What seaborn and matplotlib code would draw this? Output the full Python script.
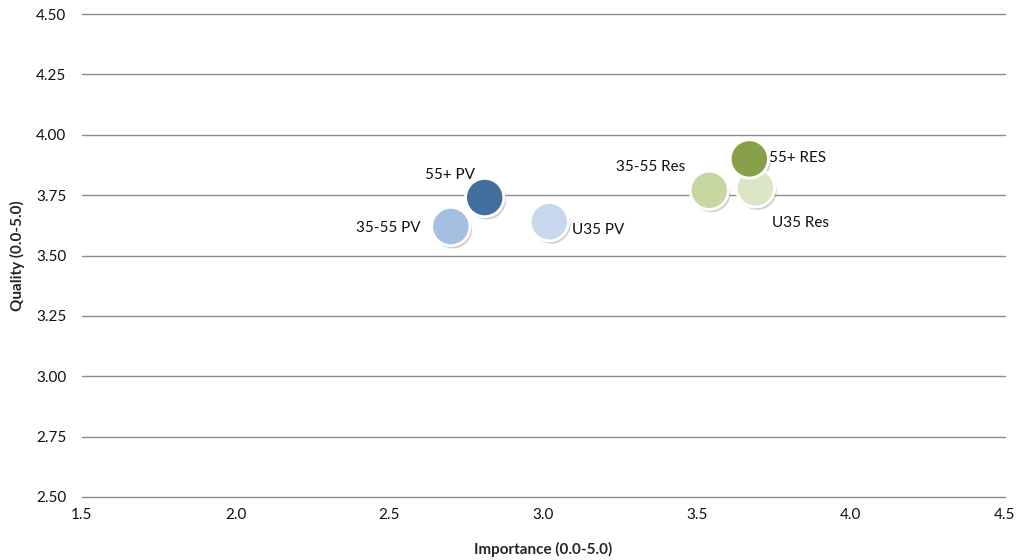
import pandas as pd
import seaborn as sns
import matplotlib.pyplot as plt
import matplotlib.patheffects as pe

# data
segments = ["55+ PV", "35-55 PV", "U35 PV", "35-55 Res", "U35 Res", "55+ RES"]
importance = [2.81, 2.70, 3.02, 3.54, 3.69, 3.67]
quality = [3.74, 3.62, 3.64, 3.77, 3.78, 3.90]

df = pd.DataFrame({"segment": segments, "importance": importance, "quality": quality})

colors = {
    "55+ PV": "#426f9e",
    "35-55 PV": "#a4bfdf",
    "U35 PV": "#c8d8ec",
    "35-55 Res": "#c6d7a2",
    "U35 Res": "#dce6c5",
    "55+ RES": "#87a14b",
}

# label placement (offset in points, alignment)
label_pos = {
    "55+ PV": ((-7, 11), "right", "bottom"),
    "35-55 PV": ((-22, -1), "right", "center"),
    "U35 PV": ((16, -6), "left", "center"),
    "35-55 Res": ((-17, 17), "right", "center"),
    "55+ RES": ((14, 1), "left", "center"),
    "U35 Res": ((12, -25), "left", "center"),
}

sns.set_theme(style="white")
plt.rcParams["font.family"] = ["Lato", "DejaVu Sans"]

fig = plt.figure(figsize=(10.21, 5.60), dpi=100)
ax = fig.add_axes([0.080, 0.1125, 0.904, 0.8625])

sns.scatterplot(
    data=df, x="importance", y="quality", hue="segment", palette=colors,
    s=760, edgecolor="white", linewidth=2, legend=False, ax=ax, zorder=3,
)
for coll in ax.collections:
    coll.set_path_effects([
        pe.SimplePatchShadow(offset=(1.5, -2), shadow_rgbFace="#888888", alpha=0.4),
        pe.Normal(),
    ])

for seg, x, y in zip(segments, importance, quality):
    off, ha, va = label_pos[seg]
    ax.annotate(seg, (x, y), xytext=off, textcoords="offset points",
                ha=ha, va=va, fontsize=11, color="#111111", zorder=4)

ax.set_xlim(1.5, 4.5)
ax.set_ylim(2.5, 4.5)
ax.set_xticks([1.5, 2.0, 2.5, 3.0, 3.5, 4.0, 4.5])
ax.set_xticklabels(["1.5", "2.0", "2.5", "3.0", "3.5", "4.0", "4.5"])
ax.set_yticks([2.5, 2.75, 3.0, 3.25, 3.5, 3.75, 4.0, 4.25, 4.5])
ax.set_yticklabels(["2.50", "2.75", "3.00", "3.25", "3.50", "3.75", "4.00", "4.25", "4.50"])
ax.yaxis.grid(True, color="#8c8c8c", linewidth=1)
for gl in ax.get_ygridlines():
    gl.set_clip_on(False)
ax.set_axisbelow(True)
for side in ["top", "right", "left", "bottom"]:
    ax.spines[side].set_visible(False)
ax.tick_params(axis="both", labelsize=11, colors="#111111", length=0)
ax.tick_params(axis="y", pad=11)
ax.tick_params(axis="x", pad=8)

ax.set_xlabel("Importance (0.0-5.0)", fontsize=11, fontweight="bold", labelpad=14)
ax.set_ylabel("Quality (0.0-5.0)", fontsize=11, fontweight="bold", labelpad=8)

fig.savefig("out.png", dpi=100)
